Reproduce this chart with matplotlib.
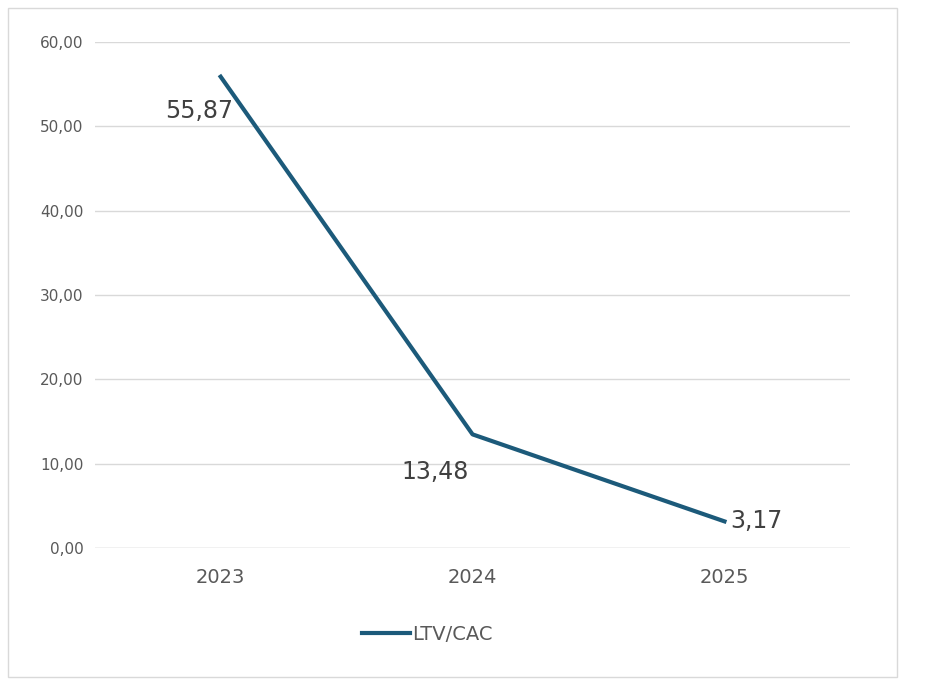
import numpy as np
import matplotlib.pyplot as plt
from matplotlib.patches import Rectangle

years = ['2023', '2024', '2025']
ltv_cac = [55.87, 13.48, 3.17]

LINE_COLOR = '#1c5a7a'
TEXT_COLOR = '#404040'

def fmt_comma(v):
    return f"{v:.2f}".replace('.', ',')

x = np.arange(len(years))

fig = plt.figure(figsize=(9.47, 6.86), dpi=100)
fig.patches.append(Rectangle((8 / 947, 1 - 677 / 686), 889 / 947, 669 / 686,
                             transform=fig.transFigure, fill=False,
                             edgecolor='#d9d9d9', linewidth=1))
ax = fig.add_axes([0.100, 0.201, 0.798, 0.738])

ax.plot(x, ltv_cac, color=LINE_COLOR, linewidth=3, label='LTV/CAC')

# data labels, placed like the spreadsheet did
ax.annotate(fmt_comma(ltv_cac[0]), (x[0], ltv_cac[0]), xytext=(9, -25),
            textcoords='offset points', ha='right', va='center', fontsize=17, color=TEXT_COLOR)
ax.annotate(fmt_comma(ltv_cac[1]), (x[1], ltv_cac[1]), xytext=(-3, -27),
            textcoords='offset points', ha='right', va='center', fontsize=17, color=TEXT_COLOR)
ax.annotate(fmt_comma(ltv_cac[2]), (x[2], ltv_cac[2]), xytext=(4, 0),
            textcoords='offset points', ha='left', va='center', fontsize=17, color=TEXT_COLOR)

ax.set_xlim(-0.5, 2.5)
ax.set_ylim(0, 60)
ax.set_yticks(np.arange(0, 61, 10))
ax.set_yticklabels([fmt_comma(v) for v in np.arange(0, 61, 10)])
ax.set_xticks(x)
ax.set_xticklabels(years)
ax.tick_params(axis='y', length=0, labelsize=11, labelcolor='#595959', pad=8)
ax.tick_params(axis='x', length=0, labelsize=14, labelcolor='#595959', pad=14)
ax.grid(True, axis='y', color='#d9d9d9', linewidth=1)
ax.set_axisbelow(True)
for s in ax.spines.values():
    s.set_visible(False)
ax.axhline(0, color='#d9d9d9', linewidth=1)

ax.legend(loc='center', bbox_to_anchor=(0.44, -0.17), frameon=False,
          fontsize=14, labelcolor='#595959', handlelength=2.5, handletextpad=0.1)

plt.savefig('out.png', dpi=100)
plt.close()
